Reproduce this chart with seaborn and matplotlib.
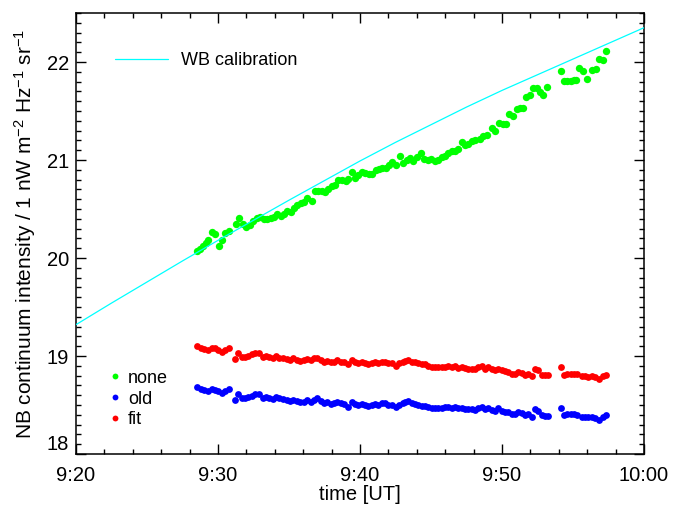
import numpy as np
import pandas as pd
import matplotlib
matplotlib.use("Agg")
import matplotlib.pyplot as plt
import seaborn as sns
from matplotlib.lines import Line2D
from matplotlib.ticker import MultipleLocator, FixedLocator

# ---------------- data (time in minutes after 9:00 UT) ----------------
cal_t = [20, 22.5, 25, 27.5, 30, 32.5, 35, 37.5, 40, 42.5, 45, 47.5, 50,
         52.5, 55, 57.5, 60]
cal_v = [19.32, 19.54, 19.755, 19.97, 20.18, 20.385, 20.59, 20.79, 20.99,
         21.18, 21.36, 21.54, 21.71, 21.87, 22.03, 22.19, 22.35]

t_none = [28.54, 28.73, 28.92, 29.15, 29.32, 29.56, 29.79, 30.07, 30.30, 30.49,
          30.80, 31.27, 31.50, 31.74, 31.97, 32.25, 32.49, 32.73, 32.96, 33.24,
          33.47, 33.71, 33.94, 34.18, 34.42, 34.65, 34.88, 35.12, 35.35, 35.58,
          35.82, 36.06, 36.29, 36.60, 36.83, 37.06, 37.30, 37.54, 37.77, 38.05,
          38.24, 38.47, 38.71, 38.99, 39.18, 39.42, 39.65, 39.88, 40.12, 40.35,
          40.63, 40.87, 41.11, 41.34, 41.57, 41.81, 42.04, 42.27, 42.51, 42.82,
          43.05, 43.29, 43.52, 43.75, 43.99, 44.27, 44.53, 44.77, 45.00, 45.28,
          45.51, 45.75, 45.99, 46.22, 46.46, 46.69, 46.92, 47.16, 47.39, 47.63,
          47.87, 48.10, 48.45, 48.68, 48.92, 49.27, 49.51, 49.81, 50.09, 50.28,
          50.51, 50.75, 51.04, 51.27, 51.50, 51.69, 51.97, 52.20, 52.44, 52.68,
          52.91, 53.19, 54.13, 54.36, 54.60, 54.84, 55.07, 55.21, 55.44, 55.72,
          56.01, 56.31, 56.62, 56.85, 57.09, 57.32]
v_none = [20.07, 20.09, 20.12, 20.15, 20.18, 20.27, 20.24, 20.12, 20.18, 20.26,
          20.28, 20.35, 20.41, 20.35, 20.32, 20.34, 20.38, 20.41, 20.42, 20.40,
          20.40, 20.41, 20.42, 20.45, 20.43, 20.45, 20.48, 20.47, 20.51, 20.54,
          20.56, 20.57, 20.61, 20.58, 20.68, 20.68, 20.68, 20.67, 20.70, 20.73,
          20.74, 20.80, 20.80, 20.79, 20.81, 20.88, 20.82, 20.85, 20.88, 20.87,
          20.86, 20.86, 20.90, 20.91, 20.92, 20.92, 20.95, 20.98, 20.95, 21.04,
          20.97, 21.00, 21.02, 20.99, 21.03, 21.07, 21.01, 21.00, 21.01, 20.99,
          21.00, 21.03, 21.04, 21.07, 21.09, 21.09, 21.11, 21.18, 21.15, 21.16,
          21.19, 21.20, 21.21, 21.24, 21.26, 21.33, 21.30, 21.38, 21.37, 21.37,
          21.47, 21.45, 21.52, 21.53, 21.53, 21.64, 21.66, 21.73, 21.73, 21.69,
          21.66, 21.74, 21.91, 21.81, 21.81, 21.81, 21.82, 21.82, 21.94, 21.91,
          21.83, 21.92, 21.93, 22.03, 22.02, 22.11]

t_corr = [28.55, 28.78, 29.01, 29.32, 29.55, 29.79, 30.02, 30.26, 30.49, 30.80,
          31.20, 31.43, 31.67, 31.90, 32.14, 32.37, 32.61, 32.91, 33.15, 33.38,
          33.61, 33.85, 34.08, 34.32, 34.55, 34.84, 35.07, 35.31, 35.54, 35.77,
          36.06, 36.29, 36.53, 36.76, 37.00, 37.23, 37.46, 37.70, 37.93, 38.17,
          38.40, 38.64, 38.87, 39.18, 39.41, 39.65, 39.88, 40.12, 40.35, 40.59,
          40.82, 41.06, 41.29, 41.53, 41.76, 42.00, 42.23, 42.54, 42.77, 43.05,
          43.17, 43.40, 43.64, 43.87, 44.11, 44.34, 44.58, 44.81, 45.05, 45.28,
          45.52, 45.75, 45.99, 46.22, 46.46, 46.69, 46.93, 47.16, 47.39, 47.63,
          47.86, 48.10, 48.33, 48.57, 48.80, 49.04, 49.27, 49.51, 49.74, 49.98,
          50.21, 50.45, 50.68, 50.92, 51.15, 51.39, 51.62, 51.85, 52.09, 52.32,
          52.56, 52.79, 53.03, 53.26,
          54.13, 54.37, 54.60, 54.84, 55.07, 55.31, 55.61, 55.85, 56.08, 56.31,
          56.55, 56.85, 57.09, 57.32]
v_old = [18.68, 18.66, 18.65, 18.64, 18.66, 18.65, 18.64, 18.62, 18.64, 18.66,
         18.55, 18.61, 18.57, 18.57, 18.58, 18.59, 18.61, 18.61, 18.57, 18.58,
         18.57, 18.56, 18.58, 18.57, 18.56, 18.55, 18.54, 18.55, 18.54, 18.53,
         18.53, 18.55, 18.53, 18.55, 18.57, 18.54, 18.52, 18.53, 18.51, 18.52,
         18.53, 18.52, 18.51, 18.48, 18.53, 18.51, 18.50, 18.51, 18.50, 18.49,
         18.50, 18.51, 18.50, 18.52, 18.52, 18.50, 18.50, 18.48, 18.50, 18.52,
         18.53, 18.54, 18.52, 18.51, 18.50, 18.49, 18.49, 18.48, 18.47, 18.47,
         18.47, 18.47, 18.48, 18.48, 18.47, 18.48, 18.47, 18.47, 18.46, 18.46,
         18.46, 18.45, 18.47, 18.48, 18.46, 18.47, 18.45, 18.44, 18.47, 18.44,
         18.43, 18.43, 18.41, 18.41, 18.43, 18.42, 18.40, 18.41, 18.38, 18.46,
         18.44, 18.40, 18.39, 18.39,
         18.47, 18.40, 18.41, 18.41, 18.41, 18.40, 18.38, 18.38, 18.38, 18.38,
         18.37, 18.35, 18.38, 18.40]
v_fit = [19.10, 19.08, 19.07, 19.06, 19.08, 19.08, 19.06, 19.04, 19.06, 19.08,
         18.97, 19.03, 18.99, 18.99, 19.00, 19.02, 19.03, 19.03, 18.99, 19.00,
         18.99, 18.98, 19.00, 18.98, 18.98, 18.97, 18.96, 18.98, 18.96, 18.95,
         18.96, 18.97, 18.96, 18.98, 18.98, 18.96, 18.94, 18.95, 18.94, 18.94,
         18.96, 18.94, 18.94, 18.92, 18.96, 18.94, 18.93, 18.94, 18.93, 18.92,
         18.93, 18.94, 18.93, 18.94, 18.94, 18.93, 18.93, 18.90, 18.93, 18.94,
         18.95, 18.96, 18.94, 18.94, 18.93, 18.92, 18.92, 18.90, 18.89, 18.89,
         18.89, 18.89, 18.89, 18.90, 18.89, 18.90, 18.88, 18.89, 18.88, 18.87,
         18.87, 18.87, 18.89, 18.90, 18.87, 18.89, 18.87, 18.86, 18.87, 18.86,
         18.85, 18.84, 18.82, 18.82, 18.84, 18.83, 18.81, 18.82, 18.80, 18.87,
         18.86, 18.81, 18.81, 18.81,
         18.89, 18.81, 18.82, 18.82, 18.82, 18.82, 18.80, 18.80, 18.79, 18.80,
         18.79, 18.77, 18.80, 18.81]

x_ticks = [20, 30, 40, 50, 60]
x_ticklabels = ["9:20", "9:30", "9:40", "9:50", "10:00"]
y_ticks = [18, 19, 20, 21, 22]

# ---------------- style ----------------
sns.set_theme(style="ticks")
plt.rcParams['font.family'] = ['Liberation Sans', 'DejaVu Sans']
plt.rcParams['mathtext.fontset'] = 'custom'
plt.rcParams['mathtext.rm'] = 'Liberation Sans'
plt.rcParams['mathtext.it'] = 'Liberation Sans:italic'
plt.rcParams['mathtext.bf'] = 'Liberation Sans:bold'
plt.rcParams['text.color'] = 'black'
plt.rcParams['axes.labelcolor'] = 'black'
plt.rcParams['xtick.color'] = 'black'
plt.rcParams['ytick.color'] = 'black'

fig = plt.figure(figsize=(6.75, 5.08), dpi=100)
ax = fig.add_axes([76/675, 1-454/508, (644-76)/675, (454-13)/508])

cal_df = pd.DataFrame({'t': cal_t, 'v': cal_v})
none_df = pd.DataFrame({'t': t_none, 'v': v_none})
corr_df = pd.DataFrame({'t': t_corr, 'old': v_old, 'fit': v_fit})

sns.scatterplot(data=none_df, x='t', y='v', ax=ax, color='#00FF00', s=28,
                linewidth=0, legend=False, zorder=2)
sns.scatterplot(data=corr_df, x='t', y='old', ax=ax, color='#0000FF', s=24,
                linewidth=0, legend=False, zorder=2)
sns.scatterplot(data=corr_df, x='t', y='fit', ax=ax, color='#FF0000', s=24,
                linewidth=0, legend=False, zorder=2)
sns.lineplot(data=cal_df, x='t', y='v', ax=ax, color='#00FFFF', lw=0.9,
             legend=False, zorder=3)

ax.set_xlim(20, 60)
ax.set_ylim(18, 22.5)
ax.xaxis.set_major_locator(FixedLocator(x_ticks))
ax.set_xticklabels(x_ticklabels)
ax.xaxis.set_minor_locator(MultipleLocator(2))
ax.yaxis.set_major_locator(FixedLocator(y_ticks))
ax.set_yticklabels([str(v) for v in y_ticks])
ax.yaxis.set_minor_locator(MultipleLocator(0.1))

ax.tick_params(which='both', direction='in', top=True, right=True,
               colors='black', width=1.0)
ax.tick_params(which='major', length=7, labelsize=14.5)
ax.tick_params(axis='x', which='major', pad=8.5)
ax.tick_params(axis='y', which='major', pad=5)
ax.tick_params(which='minor', length=3.5)
ax.get_yticklabels()[0].set_verticalalignment('bottom')
for sp in ax.spines.values():
    sp.set_linewidth(1.1)
    sp.set_color('black')

ax.set_xlabel("time [UT]", fontsize=14.5, labelpad=0)
ax.set_ylabel(r"NB continuum intensity / 1 nW m$^{-2}$ Hz$^{-1}$ sr$^{-1}$",
              fontsize=15, labelpad=6)

leg1 = ax.legend(handles=[Line2D([0], [0], color='#00FFFF', lw=0.9)],
                 labels=['WB calibration'], loc='center left',
                 bbox_to_anchor=(0.0687, 0.892), frameon=False, fontsize=13,
                 handlelength=2.93, handletextpad=0.72, borderpad=0,
                 borderaxespad=0)
ax.add_artist(leg1)
mk = [Line2D([0], [0], marker='o', ls='none', color=c, markersize=4.2,
             markeredgewidth=0) for c in ['#00FF00', '#0000FF', '#FF0000']]
ax.legend(handles=mk, labels=['none', 'old', 'fit'], loc='center left',
          bbox_to_anchor=(0.0607, 0.1247), frameon=False, fontsize=13,
          handlelength=0.5, handletextpad=0.47, labelspacing=0.22,
          borderpad=0, borderaxespad=0)

fig.savefig("out.png", dpi=100)
